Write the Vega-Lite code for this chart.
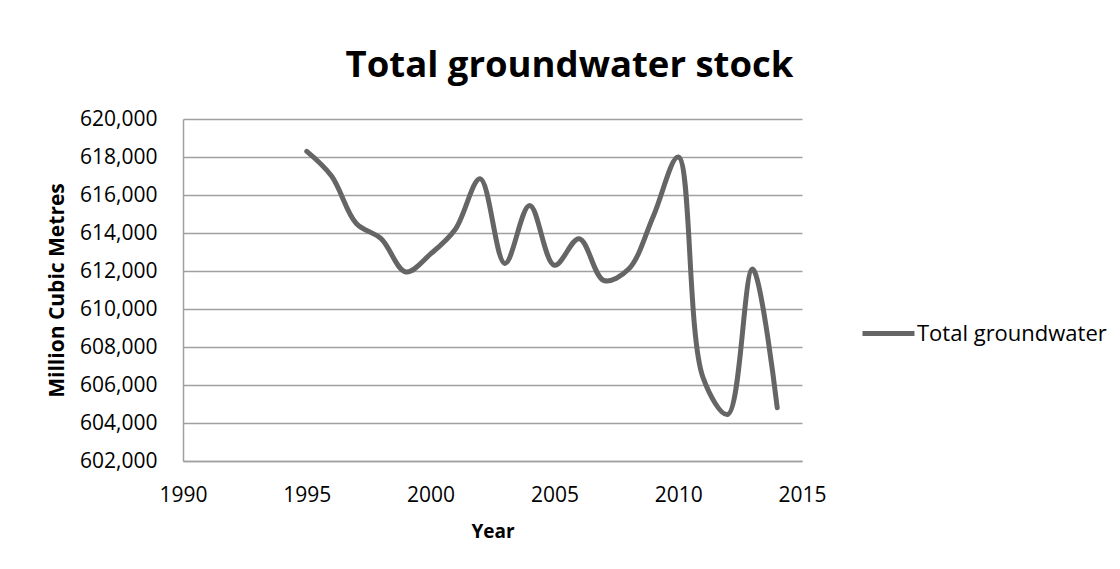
{
  "$schema": "https://vega.github.io/schema/vega-lite/v6.json",
  "width": 619,
  "height": 342,
  "autosize": "none",
  "padding": {"left": 183, "top": 119, "right": 318, "bottom": 108},
  "background": "white",
  "title": {
    "text": "Total groundwater stock",
    "font": "Open Sans",
    "fontSize": 36.5,
    "fontWeight": "bold",
    "color": "#000000",
    "anchor": "middle",
    "baseline": "alphabetic",
    "dx": 77,
    "offset": -5
  },
  "data": {
    "values": [
      {"Year": 1995, "Value": 618300, "Series": "Total groundwater"},
      {"Year": 1996, "Value": 617000, "Series": "Total groundwater"},
      {"Year": 1997, "Value": 614500, "Series": "Total groundwater"},
      {"Year": 1998, "Value": 613700, "Series": "Total groundwater"},
      {"Year": 1999, "Value": 611950, "Series": "Total groundwater"},
      {"Year": 2000, "Value": 612900, "Series": "Total groundwater"},
      {"Year": 2001, "Value": 614200, "Series": "Total groundwater"},
      {"Year": 2002, "Value": 616850, "Series": "Total groundwater"},
      {"Year": 2003, "Value": 612400, "Series": "Total groundwater"},
      {"Year": 2004, "Value": 615450, "Series": "Total groundwater"},
      {"Year": 2005, "Value": 612300, "Series": "Total groundwater"},
      {"Year": 2006, "Value": 613700, "Series": "Total groundwater"},
      {"Year": 2007, "Value": 611500, "Series": "Total groundwater"},
      {"Year": 2008, "Value": 612100, "Series": "Total groundwater"},
      {"Year": 2009, "Value": 614900, "Series": "Total groundwater"},
      {"Year": 2010, "Value": 618000, "Series": "Total groundwater"},
      {"Year": 2011, "Value": 606400, "Series": "Total groundwater"},
      {"Year": 2012, "Value": 604450, "Series": "Total groundwater"},
      {"Year": 2013, "Value": 612100, "Series": "Total groundwater"},
      {"Year": 2014, "Value": 604800, "Series": "Total groundwater"}
    ]
  },
  "mark": {"type": "line", "interpolate": "catmull-rom", "strokeWidth": 5, "strokeCap": "round"},
  "encoding": {
    "x": {
      "field": "Year",
      "type": "quantitative",
      "scale": {"domain": [1990, 2015], "nice": false, "zero": false},
      "axis": {
        "values": [1990, 1995, 2000, 2005, 2010, 2015],
        "format": "d",
        "title": "Year",
        "titleFontSize": 19,
        "grid": false,
        "ticks": false,
        "labelFlush": false,
        "labelOverlap": false,
        "labelPadding": 23,
        "titlePadding": 17,
        "domainColor": "#a0a0a0",
        "domainWidth": 1.5
      }
    },
    "y": {
      "field": "Value",
      "type": "quantitative",
      "scale": {"domain": [602000, 620000], "nice": false, "zero": false},
      "axis": {
        "values": [602000, 604000, 606000, 608000, 610000, 612000, 614000, 616000, 618000, 620000],
        "format": ",.0f",
        "title": "Million Cubic Metres",
        "titleFontSize": 21,
        "grid": true,
        "gridColor": "#a0a0a0",
        "gridWidth": 1.5,
        "ticks": false,
        "labelFlush": false,
        "labelOverlap": false,
        "labelPadding": 26,
        "titlePadding": 12,
        "domainColor": "#a0a0a0",
        "domainWidth": 1.5
      }
    },
    "color": {
      "field": "Series",
      "type": "nominal",
      "scale": {"range": ["#656565"]},
      "legend": {
        "title": null,
        "orient": "none",
        "legendX": 677,
        "legendY": 186,
        "symbolType": "stroke",
        "symbolSize": 2704,
        "symbolStrokeWidth": 5,
        "labelFontSize": 22,
        "labelFont": "Open Sans",
        "labelColor": "#000000",
        "labelOffset": 0,
        "labelLimit": 400
      }
    }
  },
  "config": {
    "view": {"stroke": null},
    "axis": {
      "labelFont": "Open Sans",
      "labelFontSize": 21,
      "labelColor": "#000000",
      "titleFont": "Open Sans",
      "titleFontWeight": "bold",
      "titleColor": "#000000"
    }
  }
}
